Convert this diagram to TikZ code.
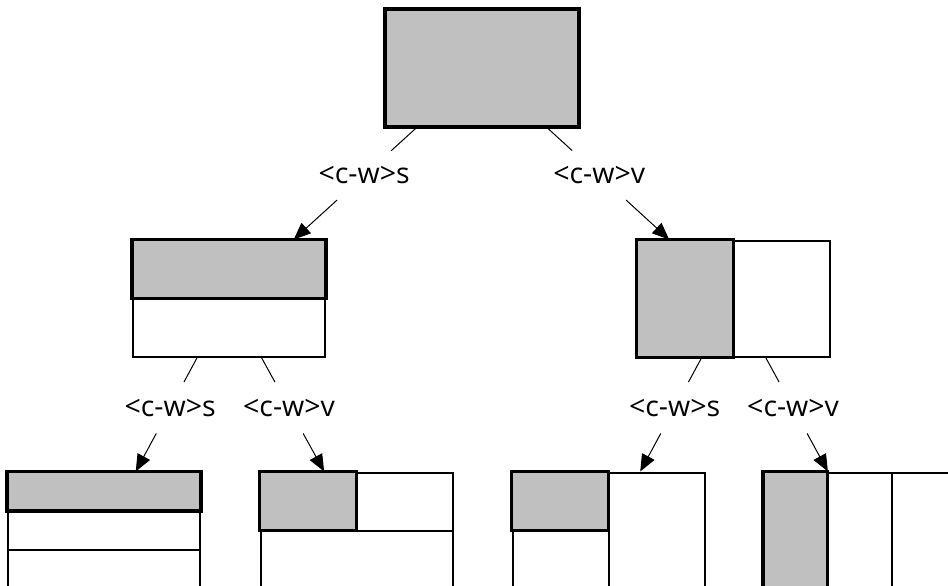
\documentclass[tikz,border=0pt]{standalone}
\usepackage{fontspec}
\setmainfont{Open Sans}
\usetikzlibrary{calc,arrows.meta}
\definecolor{shadegray}{RGB}{192,192,192}
\begin{document}
\begin{tikzpicture}[x=1pt,y=-1pt,
 box/.style={rectangle,draw,line width=2pt,minimum width=192pt,minimum height=116pt,inner sep=0pt},
 shadebox/.style={fill=shadegray,draw,line width=3.5pt},
 divider/.style={draw,line width=2pt},
 thinline/.style={draw,line width=1pt},
 lbl/.style={inner sep=0pt,minimum height=49pt,minimum width=60pt,font=\fontsize{28.5}{32}\selectfont},
 lblb/.style={lbl,minimum height=51pt},
 arr/.style={thinline,-{Triangle[length=17pt,width=14pt]}}
]
\useasboundingbox[fill=white] (0,0) rectangle (948,586);
% boxes
\node[box] (root) at (482,68) {};
\node[box] (L) at (229,298.5) {};
\node[box] (R) at (733.5,298.5) {};
\node[box] (LL) at (104,530.5) {};
\node[box] (LR) at (356.5,530.5) {};
\node[box] (RL) at (608.5,530.5) {};
\node[box] (RR) at (860,530.5) {};
% dividers
\draw[divider] ($(LL.north west)!2/3!(LL.south west)$) -- ($(LL.north east)!2/3!(LL.south east)$);
\draw[divider] (LR.west) -- (LR.east);
\draw[divider] (RL.north) -- (RL.south);
\draw[divider] ($(RR.north west)!2/3!(RR.north east)$) -- ($(RR.south west)!2/3!(RR.south east)$);
% shaded parts
\draw[shadebox] (root.north west) rectangle (root.south east);
\draw[shadebox] (L.north west) rectangle (L.east);
\draw[shadebox] (R.north west) rectangle (R.south);
\draw[shadebox] (LL.north west) rectangle ($(LL.north east)!1/3!(LL.south east)$);
\draw[shadebox] (LR.north west) rectangle (LR.center);
\draw[shadebox] (RL.north west) rectangle (RL.center);
\draw[shadebox] (RR.north west) rectangle ($(RR.south west)!1/3!(RR.south east)$);
% labels
\node[lbl] (l1) at ($(root)!0.466!(L)$) {<c-w>s};
\node[lbl] (r1) at ($(root)!0.466!(R)$) {<c-w>v};
\node[lblb] (ll) at ($(L)!0.471!(LL)$) {<c-w>s};
\node[lblb] (lr) at ($(L)!0.471!(LR)$) {<c-w>v};
\node[lblb] (rl) at ($(R)!0.471!(RL)$) {<c-w>s};
\node[lblb] (rr) at ($(R)!0.471!(RR)$) {<c-w>v};
% connectors
\draw[thinline] (root) -- (l1);
\draw[arr] (l1) -- (L);
\draw[thinline] (root) -- (r1);
\draw[arr] (r1) -- (R);
\draw[thinline] (L) -- (ll);
\draw[arr] (ll) -- (LL);
\draw[thinline] (L) -- (lr);
\draw[arr] (lr) -- (LR);
\draw[thinline] (R) -- (rl);
\draw[arr] (rl) -- (RL);
\draw[thinline] (R) -- (rr);
\draw[arr] (rr) -- (RR);
\end{tikzpicture}
\end{document}
